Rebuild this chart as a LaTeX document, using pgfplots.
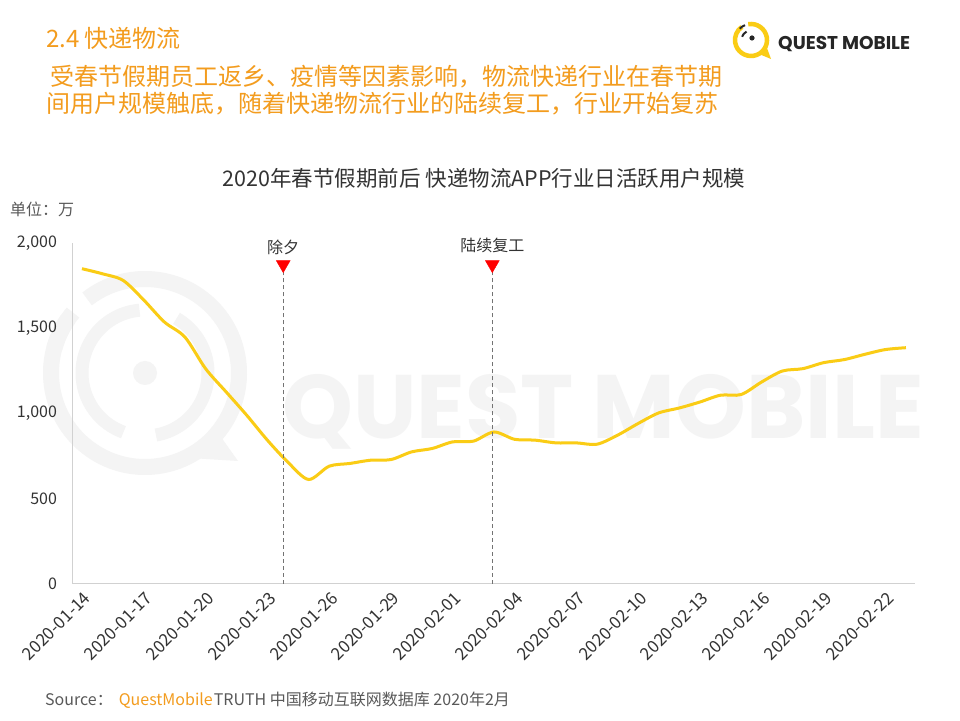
\documentclass[border=0pt]{standalone}
\usepackage{pgfplots}
\pgfplotsset{compat=1.18}
\usepackage{pgfplotstable}
\usepackage{fontspec}
\setmainfont{Noto Sans CJK SC}
\newfontfamily\wm{Poppins}
\definecolor{qmorange}{RGB}{243,156,30}
\definecolor{qmyellow}{RGB}{250,204,21}
\definecolor{txt}{RGB}{51,51,51}
\definecolor{gtxt}{RGB}{89,89,89}
\definecolor{wmc}{RGB}{244,244,244}

\pgfplotstableread{
i v
0 1849
1 1819
2 1780
3 1665
4 1536
5 1447
6 1262
7 1125
8 988
9 842
10 712
11 611
12 689
13 705
14 724
15 728
16 773
17 793
18 832
19 836
20 890
21 847
22 842
23 826
24 826
25 818
26 871
27 940
28 1002
29 1031
30 1066
31 1106
32 1110
33 1184
34 1248
35 1262
36 1297
37 1315
38 1346
39 1374
40 1385
}\dau

\pgfplotstableread{
x y
9.77 1873
19.92 1873
}\marks

\newcommand{\fs}[1]{\fontsize{#1}{#1}\selectfont}

\begin{document}
\begin{tikzpicture}[x=1pt,y=1pt]
\useasboundingbox (0,0) rectangle (960,720);
\fill[white] (0,0) rectangle (960,720);

% watermark
\begin{scope}[wmc]
\draw[line width=16pt] (145,347) ++(-215:94) arc (-215:128:94);
\draw[line width=16pt] (145,347) ++(140:94) arc (140:165:94);
\draw[line width=13pt] (145,347) ++(95:63) arc (95:250:63);
\draw[line width=13pt] (145,347) ++(-80:63) arc (-80:60:63);
\fill (145,347) circle (12);
\fill (190,262) -- (238,259) -- (216,290) -- cycle;
\node[anchor=base west, inner sep=0, text=wmc, font=\wm\bfseries\fs{90}] at (282,281) {QUEST MOBILE};
\end{scope}

% titles
\node[anchor=west, inner sep=0, text=qmorange, font=\fs{24}] at (46,682) {2.4 快递物流};
\node[anchor=west, inner sep=0, text=qmorange, font=\fs{24}] at (50,643) {受春节假期员工返乡、疫情等因素影响，物流快递行业在春节期};
\node[anchor=west, inner sep=0, text=qmorange, font=\fs{24}] at (46,616) {间用户规模触底，随着快递物流行业的陆续复工，行业开始复苏};
\node[anchor=center, inner sep=0, text=txt, font=\fs{21.5}] at (484,542) {2020年春节假期前后 快递物流APP行业日活跃用户规模};
\node[anchor=west, inner sep=0, text=gtxt, font=\fs{16}] at (10,511) {单位：万};

% footer
\node[anchor=west, inner sep=0, text=gtxt, font=\fs{16}] at (45,20) {Source：\hspace{6pt}\textcolor{qmorange}{QuestMobile}\hspace{1pt}TRUTH 中国移动互联网数据库 2020年2月};

% logo
\draw[qmyellow, line width=4.5pt] (751,680) ++(100:16) arc (100:-235:16);
\fill[qmyellow] (759,666) -- (771,661) -- (767,672) -- cycle;
\draw[black!85, line width=2pt] (751,680) ++(118:9.5) arc (118:160:9.5);
\draw[black!85, line width=2pt] (751,680) ++(112:16) arc (112:135:16);
\fill[black!85] (752,682) circle (2.6);
\node[anchor=west, inner sep=0, text=black!85, font=\wm\bfseries\fs{18.5}] at (778,676) {QUEST MOBILE};

\begin{axis}[
  at={(72.5pt,136.5pt)}, anchor=south west,
  width=842.5pt, height=340.5pt, scale only axis,
  xmin=-0.46, xmax=40.44, ymin=0, ymax=2000,
  axis x line*=bottom, axis y line*=left,
  axis line style={draw=black!18, line width=1pt},
  major tick length=0pt,
  xtick={0,3,...,39},
  xticklabels={2020-01-14,2020-01-17,2020-01-20,2020-01-23,2020-01-26,2020-01-29,2020-02-01,2020-02-04,2020-02-07,2020-02-10,2020-02-13,2020-02-16,2020-02-19,2020-02-22},
  xticklabel style={rotate=45, anchor=east, font=\fs{17}, text=txt, yshift=-12pt, xshift=-1pt},
  ytick={0,500,1000,1500,2000},
  yticklabels={0,500,{1,000},{1,500},{2,000}},
  yticklabel style={font=\fs{16}, text=txt, xshift=-12pt},
  /pgf/number format/assume math mode=true,
  clip=false,
]
\addplot[qmyellow, line width=3pt, smooth, tension=0.5] table[x=i, y=v] {\dau};
\draw[black!55, line width=0.8pt, dash pattern=on 4pt off 3pt] (axis cs:9.77,0) -- (axis cs:9.77,1827);
\draw[black!55, line width=0.8pt, dash pattern=on 4pt off 3pt] (axis cs:19.92,0) -- (axis cs:19.92,1827);
\addplot[only marks, mark=triangle*, mark size=8pt, mark options={rotate=180, fill=red, draw=red}] table[x=x, y=y] {\marks};
\node[text=txt, font=\fs{16}, inner sep=0] at (axis cs:9.77,1977) {除夕};
\node[text=txt, font=\fs{16}, inner sep=0] at (axis cs:19.92,1985) {陆续复工};
\end{axis}
\end{tikzpicture}
\end{document}
